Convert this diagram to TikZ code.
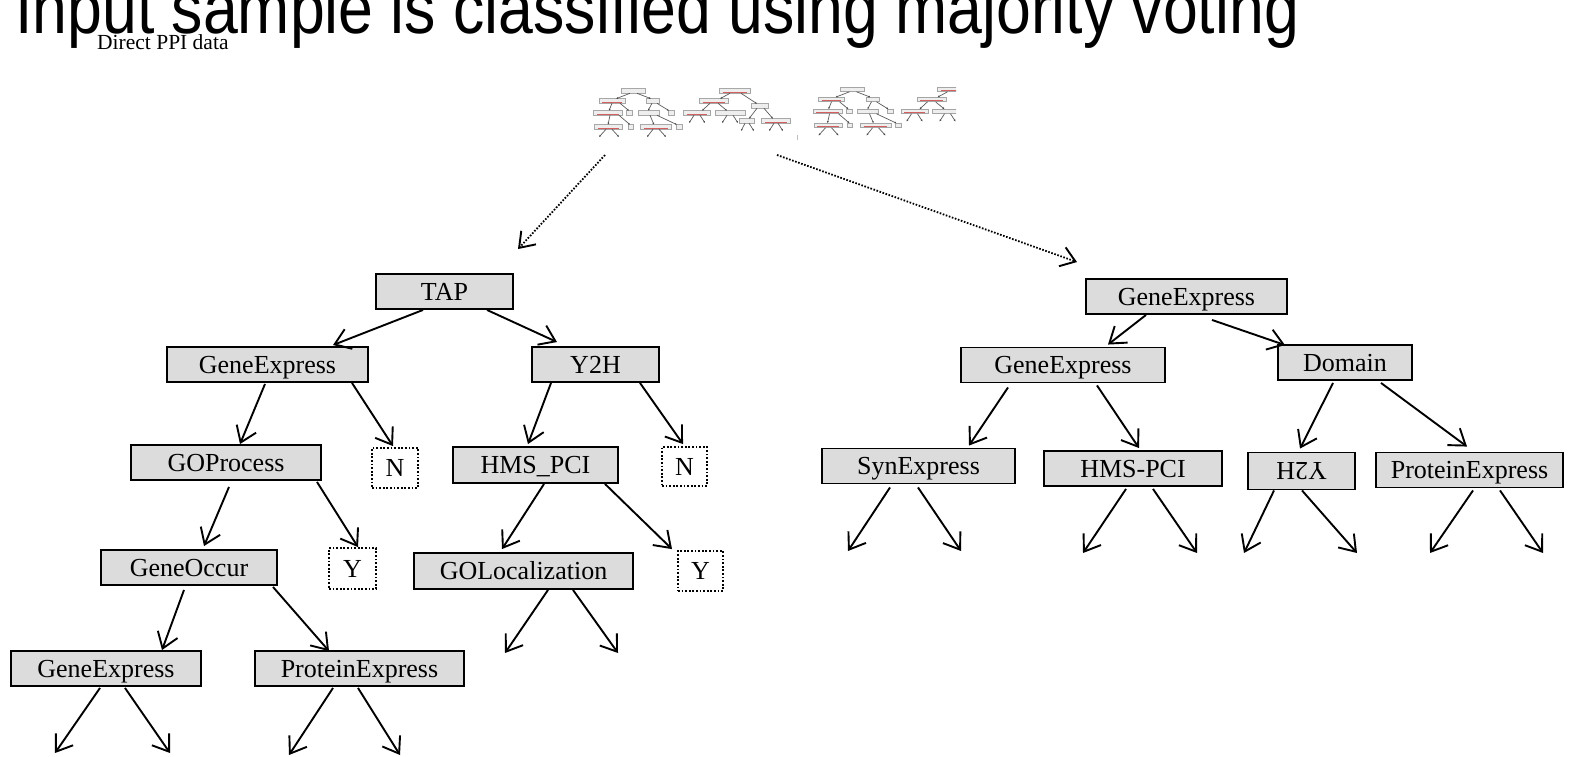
\documentclass[tikz,border=0pt]{standalone}
\usepackage{fontspec}
\setmainfont{Liberation Serif}
\newfontfamily\titlefont{Liberation Sans}
\usetikzlibrary{arrows.meta,calc}

\definecolor{boxgray}{RGB}{220,220,220}
\definecolor{thumbred}{RGB}{205,60,60}

\tikzset{
  box/.style={draw, line width=1.9pt, fill=boxgray, minimum height=35pt,
    inner sep=0pt, text height=17pt, text depth=0pt,
    font=\fontsize{26}{30}\selectfont},
  leafbox/.style={draw, line width=1.8pt, dash pattern=on 1.8pt off 1.8pt,
    fill=white, minimum width=46pt, minimum height=40pt, inner sep=0pt,
    text height=17pt, text depth=0pt, font=\fontsize{26}{30}\selectfont},
  branch/.style={line width=1.9pt,
    -{Straight Barb[length=15pt,width=21pt,line width=1.9pt]}},
  votearrow/.style={line width=1.8pt, dash pattern=on 1.6pt off 1.6pt,
    -{Straight Barb[length=14pt,width=20pt,line width=1.9pt]}},
  thumbbox/.style={draw=gray!80, fill=gray!15, line width=0.9pt},
  thumbredline/.style={draw=thumbred, line width=1pt, opacity=0.8},
  thumbarrow/.style={draw=gray!50!black, line width=0.7pt,
    -{Latex[length=2pt,width=2pt]}},
}

% miniature tree drawings
\newcommand\thbox[3]{\draw[thumbbox] ({#1-#3/2},{#2-2.3}) rectangle ({#1+#3/2},{#2+2.3});}
\newcommand\thred[3]{\thbox{#1}{#2}{#3}\draw[thumbredline] ({#1-#3*0.38},{#2+1.2}) -- ({#1+#3*0.38},{#2+1.2});}
\newcommand\thline[4]{\draw[thumbarrow] (#1,#2) -- (#3,#4);}

\newcommand\thtreeA{%
  \thbox{0}{0}{24}
  \thred{-21}{10}{26}
  \thbox{20}{10}{13}
  \thred{-25}{22}{29}
  \thbox{-3.5}{22}{6}
  \thbox{15.5}{22}{21}
  \thbox{38}{22}{6}
  \thred{-24.5}{36}{28}
  \thbox{-2.5}{36}{5}
  \thred{23}{36}{31}
  \thbox{46}{36}{6}
  \thline{-3}{2.3}{-17}{7.7}
  \thline{4}{2.3}{18}{7.7}
  \thline{-21}{12.3}{-24}{19.7}
  \thline{-13}{12.3}{-4}{19.7}
  \thline{19}{12.3}{15}{19.7}
  \thline{24}{12.3}{36}{19.7}
  \thline{-23}{24.3}{-25}{33.7}
  \thline{-14}{24.3}{-3}{33.7}
  \thline{17}{24.3}{21}{33.7}
  \thline{24}{24.3}{44}{33.7}
  \thline{-27}{38.3}{-34}{46}
  \thline{-21}{38.3}{-14}{46}
  \thline{20}{38.3}{14}{46}
  \thline{26}{38.3}{33}{46}
}
\newcommand\thtreeB{%
  \thred{0}{0}{31}
  \thred{-21}{10}{29}
  \thbox{25}{15}{17}
  \thred{-38}{22}{27}
  \thbox{-5}{22}{30}
  \thbox{12}{30}{15}
  \thred{41}{30}{29}
  \thline{-5}{2.3}{-15}{7.7}
  \thline{6}{2.3}{22}{12.7}
  \thline{-25}{12.3}{-33}{19.7}
  \thline{-17}{12.3}{-8}{19.7}
  \thline{22}{17.3}{14}{27.7}
  \thline{29}{17.3}{38}{27.7}
  \thline{-41}{24.3}{-46}{32}
  \thline{-35}{24.3}{-30}{32}
  \thline{-8}{24.3}{-13}{32}
  \thline{-2}{24.3}{3}{32}
  \thline{10}{32.3}{6}{40}
  \thline{14}{32.3}{19}{40}
  \thline{39}{32.3}{34}{40}
  \thline{43}{32.3}{48}{40}
}

\begin{document}
\begin{tikzpicture}[x=1pt, y=-1pt]
\useasboundingbox (0,0) rectangle (1586,756);
\fill[white] (0,0) rectangle (1586,756);

% heading and data source label
\node[anchor=base west, inner sep=0pt, font=\titlefont\fontsize{62.6}{70}\selectfont]
  (title) at (15,33) {\scalebox{1}[1.15]{Input sample is classified using majority voting}};
\node[anchor=base west, inner sep=0pt, font=\fontsize{21.5}{26}\selectfont]
  (source) at (97,49.5) {Direct PPI data};

% forest of miniature trees
\begin{scope}[opacity=0.85]
  \begin{scope}[shift={(633,91)}]\thtreeA\end{scope}
  \begin{scope}[shift={(735,91)}]\thtreeB\end{scope}
  \begin{scope}[shift={(852.5,89.5)}]\thtreeA\end{scope}
  \begin{scope}
    \clip (890,80) rectangle (956,140);
    \begin{scope}[shift={(952.5,89.5)}]\thtreeB\end{scope}
  \end{scope}
  \draw[gray!60, line width=0.8pt] (797,135) -- (797,140);
\end{scope}
\coordinate (thumbL) at (605,155);
\coordinate (thumbR) at (777,155);

% first tree
\node[box, minimum width=137pt] (tap) at (444.5,291.5) {TAP};
\node[box, minimum width=201pt] (ge1) at (267.5,364.5) {GeneExpress};
\node[box, minimum width=127pt] (y2h) at (595.5,364.5) {Y2H};
\node[box, minimum width=190pt] (gop) at (226,462.5) {GOProcess};
\node[leafbox] (n1) at (395,468) {N};
\node[box, minimum width=165pt, minimum height=36pt] (hms) at (535.5,465) {HMS\_PCI};
\node[leafbox, minimum width=45pt, minimum height=39pt] (n2) at (684.5,466.5) {N};
\node[box, minimum width=176pt] (goc) at (189,567.5) {GeneOccur};
\node[leafbox, minimum width=47pt, minimum height=41pt] (y1) at (352.5,568.5) {Y};
\node[box, minimum width=219pt, minimum height=36pt] (goloc) at (523.5,571) {GOLocalization};
\node[leafbox, minimum width=45pt] (y2) at (700.5,571) {Y};
\node[box, minimum width=190pt] (ge4) at (106,668.5) {GeneExpress};
\node[box, minimum width=209pt] (pe4) at (359.5,668.5) {ProteinExpress};

\draw[branch] ([xshift=-21.5pt]tap.south) -- ([xshift=65.5pt,yshift=1pt]ge1.north);
\draw[branch] ([xshift=42.5pt]tap.south) -- ([xshift=-38.5pt,yshift=4pt]y2h.north);
\draw[branch] ([xshift=-2.5pt,yshift=-1pt]ge1.south) -- ([xshift=14pt]gop.north);
\draw[branch] ([xshift=84.5pt]ge1.south) -- ([xshift=-2pt,yshift=1pt]n1.north);
\draw[branch] ([xshift=-44.5pt]y2h.south) -- ([xshift=-7.5pt,yshift=2pt]hms.north);
\draw[branch] ([xshift=44.5pt]y2h.south) -- ([xshift=-1.5pt,yshift=2pt]n2.north);
\draw[branch] ([xshift=3pt,yshift=-6pt]gop.south) -- ([xshift=15pt,yshift=3pt]goc.north);
\draw[branch] ([xshift=91pt,yshift=-1pt]gop.south) -- ([xshift=5.5pt]y1.north);
\draw[branch] ([xshift=8.5pt]hms.south) -- ([xshift=-21.5pt,yshift=3pt]goloc.north);
\draw[branch] ([xshift=69.5pt]hms.south) -- ([xshift=-28.5pt,yshift=1pt]y2.north);
\draw[branch] ([xshift=-5pt,yshift=-4pt]goc.south) -- ([xshift=56pt]ge4.north);
\draw[branch] ([xshift=84pt,yshift=-1pt]goc.south) -- ([xshift=-30.5pt,yshift=-1pt]pe4.north);

\coordinate (ge4a) at (55,753);
\coordinate (ge4b) at (170,753);
\coordinate (pe4a) at (289,755);
\coordinate (pe4b) at (400,755);
\coordinate (golocA) at (505,653);
\coordinate (golocB) at (618,653);
\draw[branch] ([xshift=-6pt,yshift=-1pt]ge4.south) -- (ge4a);
\draw[branch] ([xshift=19pt,yshift=-1pt]ge4.south) -- (ge4b);
\draw[branch] ([xshift=-26.5pt,yshift=-1pt]pe4.south) -- (pe4a);
\draw[branch] ([xshift=-1.5pt,yshift=-1pt]pe4.south) -- (pe4b);
\draw[branch] ([xshift=24.5pt]goloc.south) -- (golocA);
\draw[branch] ([xshift=49.5pt]goloc.south) -- (golocB);

% second tree
\node[box, minimum width=201pt] (rroot) at (1186.5,296.5) {GeneExpress};
\node[box, minimum width=204pt] (rge1) at (1063,365) {GeneExpress};
\node[box, minimum width=134pt] (dom) at (1345,362.5) {Domain};
\node[box, minimum width=193pt] (syn) at (918.5,466) {SynExpress};
\node[box, minimum width=178pt] (hmsr) at (1133,468.5) {HMS-PCI};
\node[box, minimum width=107pt, minimum height=37pt] (y2hr) at (1301.5,471)
  {\rotatebox[origin=c]{180}{Y2H}};
\node[box, minimum width=187pt] (per) at (1469.5,470) {ProteinExpress};

\draw[branch] ([xshift=-40.5pt]rroot.south) -- ([xshift=45pt,yshift=2pt]rge1.north);
\draw[branch] ([xshift=25.5pt,yshift=-5pt]rroot.south) -- ([xshift=-60pt,yshift=-1pt]dom.north);
\draw[branch] ([xshift=-55pt,yshift=-4pt]rge1.south) -- ([xshift=50.5pt,yshift=2pt]syn.north);
\draw[branch] ([xshift=34pt,yshift=-2pt]rge1.south) -- ([xshift=6pt,yshift=2pt]hmsr.north);
\draw[branch] ([xshift=-12pt,yshift=-2pt]dom.south) -- ([xshift=-1.5pt,yshift=3pt]y2hr.north);
\draw[branch] ([xshift=36pt,yshift=-2pt]dom.south) -- ([xshift=-2.5pt,yshift=5pt]per.north);

\coordinate (synA) at (848,551);
\coordinate (synB) at (961,551);
\coordinate (hmsrA) at (1083,553);
\coordinate (hmsrB) at (1197,553);
\coordinate (y2hrA) at (1244,553);
\coordinate (y2hrB) at (1357,553);
\coordinate (perA) at (1430,553);
\coordinate (perB) at (1543,553);
\draw[branch] ([xshift=-28.5pt,yshift=-3pt]syn.south) -- (synA);
\draw[branch] ([xshift=-0.5pt,yshift=-3pt]syn.south) -- (synB);
\draw[branch] ([xshift=-7pt,yshift=-2pt]hmsr.south) -- (hmsrA);
\draw[branch] ([xshift=20pt,yshift=-2pt]hmsr.south) -- (hmsrB);
\draw[branch] ([xshift=-27.5pt]y2hr.south) -- (y2hrA);
\draw[branch] ([xshift=0.5pt]y2hr.south) -- (y2hrB);
\draw[branch] ([xshift=3.5pt,yshift=-2pt]per.south) -- (perA);
\draw[branch] ([xshift=30.5pt,yshift=-2pt]per.south) -- (perB);

% sampled trees taken from the forest
\draw[votearrow] (thumbL) -- ([xshift=73.5pt,yshift=24pt]tap.north);
\draw[votearrow] (thumbR) -- ([xshift=-109.5pt,yshift=16pt]rroot.north);
\end{tikzpicture}
\end{document}
